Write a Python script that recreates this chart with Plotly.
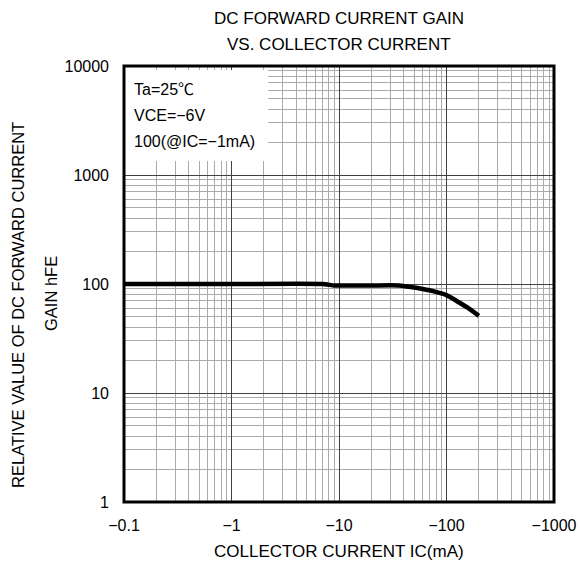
import plotly.graph_objects as go

# Collector current IC (mA) and relative DC current gain hFE
ic_ma = [-0.1, -1, -7, -9, -10, -20, -36, -50, -60, -75, -100, -130, -160, -200]
hfe = [100, 100, 100, 97, 97, 97, 97, 93, 90, 86, 79, 68, 60, 51]

x_tickvals = [0.1, 1, 10, 100, 1000]
x_ticktext = ["\u22120.1", "\u22121", "\u221210", "\u2212100", "\u22121000"]
y_tickvals = [1, 10, 100, 1000, 10000]
y_ticktext = ["1", "10", "100", "1000", "10000"]

conditions = ["Ta=25\u2103", "VCE=\u22126V", "100(@IC=\u22121mA)"]
title_lines = ["DC FORWARD CURRENT GAIN", "VS. COLLECTOR CURRENT"]
y_title_lines = ["RELATIVE VALUE OF DC FORWARD CURRENT", "GAIN hFE"]
x_title = "COLLECTOR CURRENT IC(mA)"

FONT = "Liberation Sans, Arial, Noto Sans CJK JP, sans-serif"
MAJOR_GRID = "#404040"
MINOR_GRID = "#ababab"


def minor_values(decades):
    return [m * d for d in decades for m in range(2, 10)]


fig = go.Figure()
fig.add_trace(go.Scatter(
    x=[abs(v) for v in ic_ma],
    y=hfe,
    mode="lines",
    line=dict(color="black", width=4.5, shape="spline", smoothing=0.5),
    hoverinfo="skip",
    showlegend=False,
))

fig.update_xaxes(
    type="log",
    range=[-1, 3],
    tickvals=x_tickvals,
    ticktext=x_ticktext,
    ticks="",
    ticklabelstandoff=12,
    tickfont=dict(family=FONT, size=16, color="black"),
    showgrid=True,
    gridcolor=MAJOR_GRID,
    gridwidth=1,
    minor=dict(tickvals=minor_values([0.1, 1, 10, 100]), showgrid=True,
               gridcolor=MINOR_GRID, gridwidth=1, ticks=""),
    zeroline=False,
    showline=False,
    automargin=False,
)
fig.update_yaxes(
    type="log",
    range=[0, 4],
    tickvals=y_tickvals,
    ticktext=y_ticktext,
    ticks="",
    ticklabelstandoff=14,
    tickfont=dict(family=FONT, size=16, color="black"),
    showgrid=True,
    gridcolor=MAJOR_GRID,
    gridwidth=1,
    minor=dict(tickvals=minor_values([1, 10, 100, 1000]), showgrid=True,
               gridcolor=MINOR_GRID, gridwidth=1, ticks=""),
    zeroline=False,
    showline=False,
    automargin=False,
)

shapes = [
    # white backdrop behind the measurement conditions
    dict(type="rect", xref="paper", yref="paper", x0=0, x1=0.335, y0=0.782, y1=0.991,
         fillcolor="white", line=dict(width=0), layer="above"),
    # heavy frame around the plotting area
    dict(type="rect", xref="paper", yref="paper", x0=0, x1=1, y0=0, y1=1,
         line=dict(color="black", width=3), layer="above"),
]

annotations = []
for i, txt in enumerate(conditions):
    annotations.append(dict(
        text=txt, xref="paper", yref="paper", x=0.019, y=0.947 - i * 0.06,
        xanchor="left", yanchor="middle", showarrow=False,
        font=dict(family=FONT, size=16, color="black"),
    ))
for i, txt in enumerate(title_lines):
    annotations.append(dict(
        text=txt, xref="paper", yref="paper", x=0.5, y=1 + (48 - i * 27) / 436,
        xanchor="center", yanchor="middle", showarrow=False,
        font=dict(family=FONT, size=17, color="black"),
    ))
y_title_x = [18, 51]
y_title_y = [0.452, 0.477]
for txt, xp, yp in zip(y_title_lines, y_title_x, y_title_y):
    annotations.append(dict(
        text=txt, xref="paper", yref="paper", x=(xp - 124) / 430, y=yp,
        xanchor="center", yanchor="middle", textangle=-90, showarrow=False,
        font=dict(family=FONT, size=16.5, color="black"),
    ))
annotations.append(dict(
    text=x_title, xref="paper", yref="paper", x=0.5, y=-49 / 436,
    xanchor="center", yanchor="middle", showarrow=False,
    font=dict(family=FONT, size=17, color="black"),
))

fig.update_layout(
    width=580,
    height=569,
    margin=dict(l=124, r=26, t=66, b=67),
    paper_bgcolor="white",
    plot_bgcolor="white",
    shapes=shapes,
    annotations=annotations,
    showlegend=False,
)

fig.write_html("out.html")
